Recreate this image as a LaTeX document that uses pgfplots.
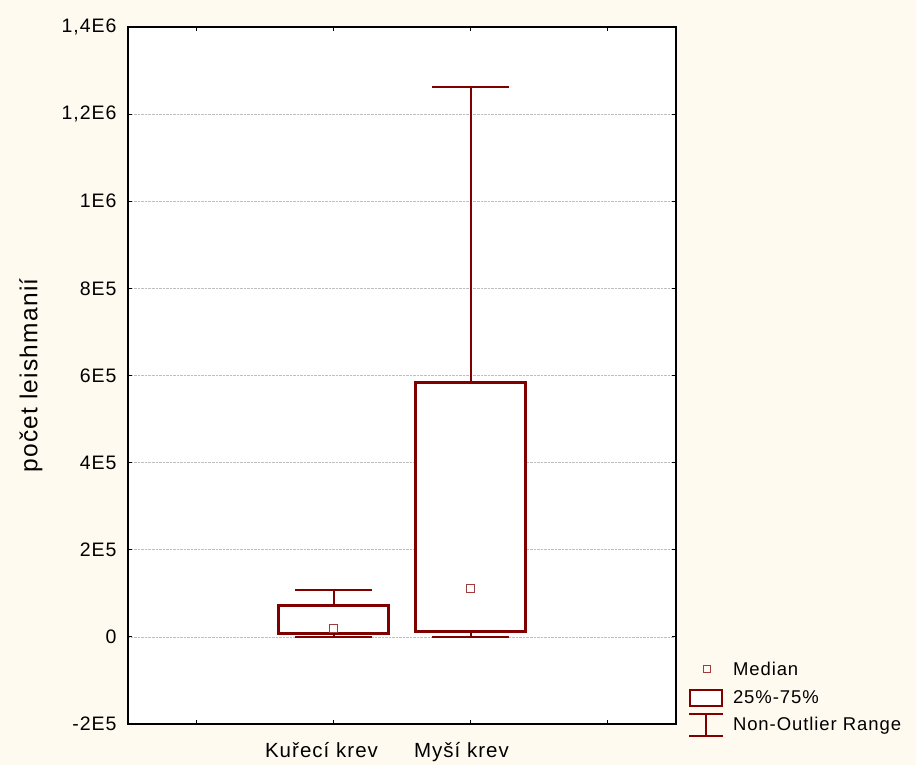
\documentclass[border=0pt]{standalone}
\usepackage{fontspec}
\setmainfont[LetterSpace=5]{Liberation Sans}
\usepackage{pgfplots}
\pgfplotsset{compat=1.18}
\definecolor{dred}{RGB}{128,0,0}
\definecolor{medred}{RGB}{160,60,60}
\definecolor{cream}{RGB}{255,250,240}
\begin{document}
\begin{tikzpicture}
\fill[cream] (-128bp,-41bp) rectangle (788bp,724bp);
\begin{axis}[
  at={(0,0)}, anchor=south west,
  scale only axis, width=548bp, height=697bp,
  xmin=-0.5, xmax=3.5, ymin=-200000, ymax=1400000,
  enlargelimits=false,
  axis background/.style={fill=white},
  axis line style={line width=1.8bp, black},
  tick style={black, line width=1bp},
  tick align=inside, major tick length=4bp,
  xtick={0,1,2,3},
  xticklabels={,{\hspace*{-6bp}Kuřecí krev},Myší krev,},
  ytick={-200000,0,200000,400000,600000,800000,1000000,1200000,1400000},
  yticklabels={-2E5,0,2E5,4E5,6E5,8E5,1E6,{1,2E6},{1,4E6}},
  scaled y ticks=false,
  ymajorgrids,
  grid style={densely dotted, black!25, line width=0.6bp},
  yticklabel style={font=\fontsize{19.5bp}{22bp}\selectfont},
  xticklabel style={font=\fontsize{20.5bp}{23bp}\selectfont, xshift=-9bp},
  yticklabel shift=8bp,
  xticklabel shift=15bp,
  ylabel={počet leishmanií},
  ylabel style={font=\fontsize{24.5bp}{27bp}\selectfont, at={(axis description cs:-0.177,0.5)}, anchor=center},
  every axis plot/.append style={forget plot},
]
% Kurecí krev: whisker 0..107000, box 8500..71400, median 18400
\addplot[dred, line width=2bp] coordinates {(1,0) (1,8500)};
\addplot[dred, line width=2bp] coordinates {(1,71400) (1,107000)};
\addplot[dred, line width=2bp] coordinates {(0.7225,0) (1.2775,0)};
\addplot[dred, line width=2bp] coordinates {(0.7225,107000) (1.2775,107000)};
\addplot[dred, line width=2.8bp, fill=white] coordinates {(0.6,8500) (1.4,8500) (1.4,71400) (0.6,71400)} -- cycle;
% Myší krev: whisker 0..1262700, box 11500..584600, median 110600
\addplot[dred, line width=2bp] coordinates {(2,0) (2,11500)};
\addplot[dred, line width=2bp] coordinates {(2,584600) (2,1262700)};
\addplot[dred, line width=2bp] coordinates {(1.7225,0) (2.2775,0)};
\addplot[dred, line width=2bp] coordinates {(1.7225,1262700) (2.2775,1262700)};
\addplot[dred, line width=2.8bp, fill=white] coordinates {(1.6,11500) (2.4,11500) (2.4,584600) (1.6,584600)} -- cycle;
% medians
\addplot[only marks, mark=square, mark size=4bp, medred, mark options={line width=1.1bp}]
  coordinates {(1,18400) (2,110600)};
\end{axis}
\begin{axis}[
  at={(0,0)}, anchor=south west,
  scale only axis, width=548bp, height=697bp,
  xmin=-0.5, xmax=3.5, ymin=-2, ymax=14, hide axis,
  legend style={at={(axis description cs:1,0)}, anchor=south west, xshift=12bp, yshift=-13bp,
    draw=none, fill=none, inner sep=0pt, row sep=6bp, column sep=7bp,
    font=\fontsize{18.5bp}{21bp}\selectfont,
    nodes={inner sep=2bp}},
  legend cell align=left,
]
\addlegendimage{legend image code/.code={\draw[medred, line width=1bp] (14bp,-3.5bp) rectangle (21bp,3.5bp); \path (0bp,-13bp) (34bp,13bp);}}
\addlegendentry{Median}
\addlegendimage{legend image code/.code={\draw[dred, line width=2.5bp, fill=white] (1bp,-8bp) rectangle (33bp,8bp);}}
\addlegendentry{25\%-75\%}
\addlegendimage{legend image code/.code={\draw[dred, line width=1.8bp] (0bp,11bp) -- (34bp,11bp) (17bp,11bp) -- (17bp,-11bp) (0bp,-11bp) -- (34bp,-11bp);}}
\addlegendentry{Non-Outlier Range}
\end{axis}
\pgfresetboundingbox
\useasboundingbox (-128bp,-41bp) rectangle (788bp,724bp);
\end{tikzpicture}
\end{document}
